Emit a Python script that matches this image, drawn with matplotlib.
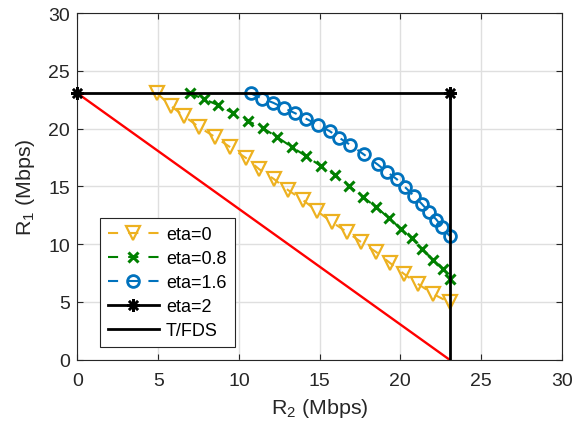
import matplotlib
matplotlib.use("Agg")
import matplotlib.pyplot as plt

plt.rcParams['font.family'] = ['Liberation Sans', 'DejaVu Sans']
plt.rcParams['mathtext.fontset'] = 'custom'
plt.rcParams['mathtext.rm'] = 'Liberation Sans'
plt.rcParams['mathtext.it'] = 'Liberation Sans'

# eta = 0
x_eta0 = [4.93, 5.79, 6.60, 7.53, 8.52, 9.45, 10.44, 11.25, 12.17, 13.04, 13.97,
          14.84, 15.76, 16.69, 17.57, 18.50, 19.36, 20.23, 21.10, 22.03, 23.05]
y_eta0 = [23.05, 21.95, 21.08, 20.13, 19.27, 18.40, 17.45, 16.49, 15.63, 14.68, 13.81,
          12.86, 11.91, 11.05, 10.18, 9.32, 8.37, 7.42, 6.55, 5.69, 4.95]
# eta = 0.8
x_eta08 = [6.97, 7.84, 8.71, 9.63, 10.56, 11.49, 12.36, 13.29, 14.15, 15.08, 15.95,
           16.82, 17.69, 18.49, 19.30, 20.04, 20.72, 21.35, 22.03, 22.65, 23.05]
y_eta08 = [23.05, 22.55, 22.03, 21.34, 20.65, 20.04, 19.27, 18.40, 17.62, 16.76, 15.98,
           15.03, 14.08, 13.21, 12.26, 11.31, 10.53, 9.58, 8.63, 7.85, 6.98]
# eta = 1.6
x_eta16 = [10.72, 11.45, 12.13, 12.79, 13.48, 14.18, 14.91, 15.62, 16.23, 16.90, 17.72,
           18.59, 19.19, 19.78, 20.31, 20.84, 21.33, 21.78, 22.23, 22.60, 23.05]
y_eta16 = [23.05, 22.60, 22.23, 21.78, 21.33, 20.84, 20.31, 19.78, 19.19, 18.59, 17.78,
           16.90, 16.23, 15.62, 14.91, 14.18, 13.48, 12.79, 12.13, 11.45, 10.72]
# eta = 2
x_eta2 = [0, 23.05]
y_eta2 = [23.05, 23.05]
# T/FDS
x_tfds = [23.05, 23.05]
y_tfds = [23.05, 0]
# reference line
x_ref = [0, 23.05]
y_ref = [23.05, 0]

labels = ['eta=0', 'eta=0.8', 'eta=1.6', 'eta=2', 'T/FDS']
ticks = [0, 5, 10, 15, 20, 25, 30]

dash = (4.85, 4.85)

fig = plt.figure(figsize=(5.74, 4.27), dpi=100)
ax = fig.add_axes([0.135, 0.1553, 0.8436, 0.8119])

ax.plot(x_eta0, y_eta0, color='#EDB120', lw=1.5, dashes=dash, marker='v', ms=9.5,
        mfc='none', mew=1.6, label=labels[0], zorder=3)
ax.plot(x_eta08, y_eta08, color='#008000', lw=1.5, dashes=dash, marker='x', ms=7,
        mew=2.2, label=labels[1], zorder=3)
ax.plot(x_eta16, y_eta16, color='#0072BD', lw=1.5, dashes=dash, marker='o', ms=8.5,
        mfc='none', mew=2, label=labels[2], zorder=3)
ax.plot(x_eta2, y_eta2, '-', color='black', lw=2, marker=(8, 2, 0), ms=9,
        mew=1.8, label=labels[3], zorder=4, clip_on=False)
ax.plot(x_tfds, y_tfds, '-', color='black', lw=2, label=labels[4], zorder=4)
ax.plot(x_ref, y_ref, '-', color='red', lw=1.7, zorder=2)

ax.set_xlim(0, 30)
ax.set_ylim(0, 30)
ax.set_xticks(ticks)
ax.set_yticks(ticks)
ax.grid(True, color='#DFDFDF', lw=1)
ax.set_axisbelow(True)
ax.tick_params(direction='in', top=True, right=True, labelsize=14,
               colors='#262626', length=4)
ax.tick_params(axis='x', pad=9)
ax.tick_params(axis='y', pad=5.5)
for s in ax.spines.values():
    s.set_color('#262626')
    s.set_linewidth(0.8)

ax.set_xlabel(r'R$_2$ (Mbps)', fontsize=15.4, color='#262626', labelpad=5)
ax.set_ylabel(r'R$_1$ (Mbps)', fontsize=15.4, color='#262626', labelpad=8)

leg = ax.legend(loc='lower left', bbox_to_anchor=(0.0465, 0.0366), borderaxespad=0,
                fontsize=13, handlelength=2.8, labelspacing=0.38, fancybox=False,
                framealpha=1, edgecolor='#262626', borderpad=0.45, handletextpad=0.4)
leg.get_frame().set_linewidth(0.8)

fig.savefig('out.png', dpi=100)
